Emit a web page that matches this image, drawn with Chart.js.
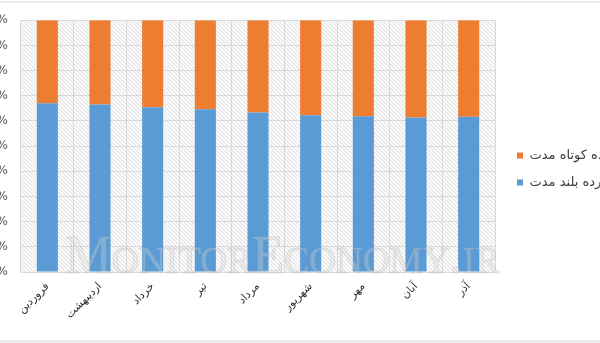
<!DOCTYPE html>
<html lang="fa">
<head>
<meta charset="UTF-8">
<title>سهم سپرده کوتاه مدت و بلند مدت</title>
<script src="https://cdn.jsdelivr.net/npm/chart.js"></script>
<style>
  html, body { margin: 0; padding: 0; background: #fff; overflow: hidden; }
  body { width: 600px; height: 343px; position: relative; }
  .top-line { position: absolute; left: 0; top: 1px; width: 600px; height: 2px; background: #ececec; }
  .bottom-band { position: absolute; left: 0; top: 340px; width: 600px; height: 3px; background: #ececec; }
  /* canvas is wider than the window on both sides: tick labels and legend get cut like the original */
  .chart-box { position: absolute; left: -42px; top: 0; width: 645px; height: 340px; }
</style>
</head>
<body>
<div class="top-line"></div>
<div class="chart-box"><canvas id="depositChart"></canvas></div>
<div class="bottom-band"></div>

<script>
const months = ['فروردین', 'اردیبهشت', 'خرداد', 'تیر', 'مرداد', 'شهریور', 'مهر', 'آبان', 'آذر'];
const longTermShare = [67.0, 66.5, 65.4, 64.6, 63.3, 62.3, 61.9, 61.4, 61.7];
const shortTermShare = [33.0, 33.5, 34.6, 35.4, 36.7, 37.7, 38.1, 38.6, 38.3];
const seriesNames = ['سپرده بلند مدت', 'سپرده کوتاه مدت'];

function makeHatch() {
    const c = document.createElement('canvas');
    c.width = 4; c.height = 4;
    const g = c.getContext('2d');
    g.fillStyle = '#fafafa';
    g.fillRect(0, 0, 4, 4);
    g.strokeStyle = '#dedede';
    g.lineWidth = 1;
    g.beginPath();
    g.moveTo(-1, -1); g.lineTo(5, 5);
    g.moveTo(-1, 3); g.lineTo(1, 5);
    g.moveTo(3, -1); g.lineTo(5, 1);
    g.stroke();
    return c;
}

const plotBackground = {
    id: 'plotBackground',
    beforeDraw(chart) {
        const { ctx, chartArea: a } = chart;
        ctx.save();
        ctx.fillStyle = ctx.createPattern(makeHatch(), 'repeat');
        ctx.fillRect(a.left, a.top, a.width, a.height + 1);
        ctx.restore();
    }
};

const watermark = {
    id: 'watermark',
    afterDatasetsDraw(chart) {
        const { ctx, chartArea: a } = chart;
        const text = 'MonitorEconomy.ir';
        ctx.save();
        ctx.font = 'small-caps 54px "Liberation Serif"';
        const w = ctx.measureText(text).width;
        ctx.translate(a.left + 44, a.bottom + 1);
        ctx.scale(435 / w, 1);
        ctx.fillStyle = 'rgba(220, 220, 220, 0.3)';
        ctx.strokeStyle = 'rgba(170, 170, 170, 0.3)';
        ctx.lineWidth = 1;
        ctx.fillText(text, 0, 0);
        ctx.strokeText(text, 0, 0);
        ctx.restore();
    }
};

new Chart(document.getElementById('depositChart'), {
    type: 'bar',
    data: {
        labels: months,
        datasets: [
            { label: seriesNames[0], data: longTermShare, backgroundColor: '#5B9BD5', barPercentage: 0.4, categoryPercentage: 1 },
            { label: seriesNames[1], data: shortTermShare, backgroundColor: '#ED7D31', barPercentage: 0.4, categoryPercentage: 1 }
        ]
    },
    options: {
        responsive: true,
        maintainAspectRatio: false,
        animation: false,
        layout: { padding: { top: 18, bottom: 20, left: 0, right: 0 } },
        plugins: {
            legend: {
                position: 'right',
                reverse: true,
                maxWidth: 100,
                labels: {
                    boxWidth: 6,
                    boxHeight: 6,
                    padding: 14,
                    color: '#404040',
                    font: { family: 'DejaVu Sans', size: 13 }
                }
            },
            tooltip: { enabled: false }
        },
        scales: {
            x: {
                stacked: true,
                grid: { color: '#d9d9d9', drawTicks: false },
                border: { display: false },
                ticks: {
                    color: '#303030',
                    font: { family: 'DejaVu Sans', size: 11 },
                    minRotation: 45,
                    maxRotation: 45,
                    padding: 8
                },
                afterFit(s) { s.height = 48; }
            },
            y: {
                stacked: true,
                min: 0,
                max: 100,
                ticks: {
                    stepSize: 10,
                    padding: 13,
                    color: '#595959',
                    font: { family: 'DejaVu Sans', size: 12 },
                    callback: v => v + '%'
                },
                grid: { color: '#d9d9d9', drawTicks: false },
                border: { display: false },
                afterFit(s) { s.width = 63; }
            },
            // empty spacer between plot and legend
            y2: {
                position: 'right',
                grid: { display: false },
                ticks: { display: false },
                border: { display: false },
                afterFit(s) { s.width = 8; }
            }
        }
    },
    plugins: [plotBackground, watermark]
});
</script>
</body>
</html>
